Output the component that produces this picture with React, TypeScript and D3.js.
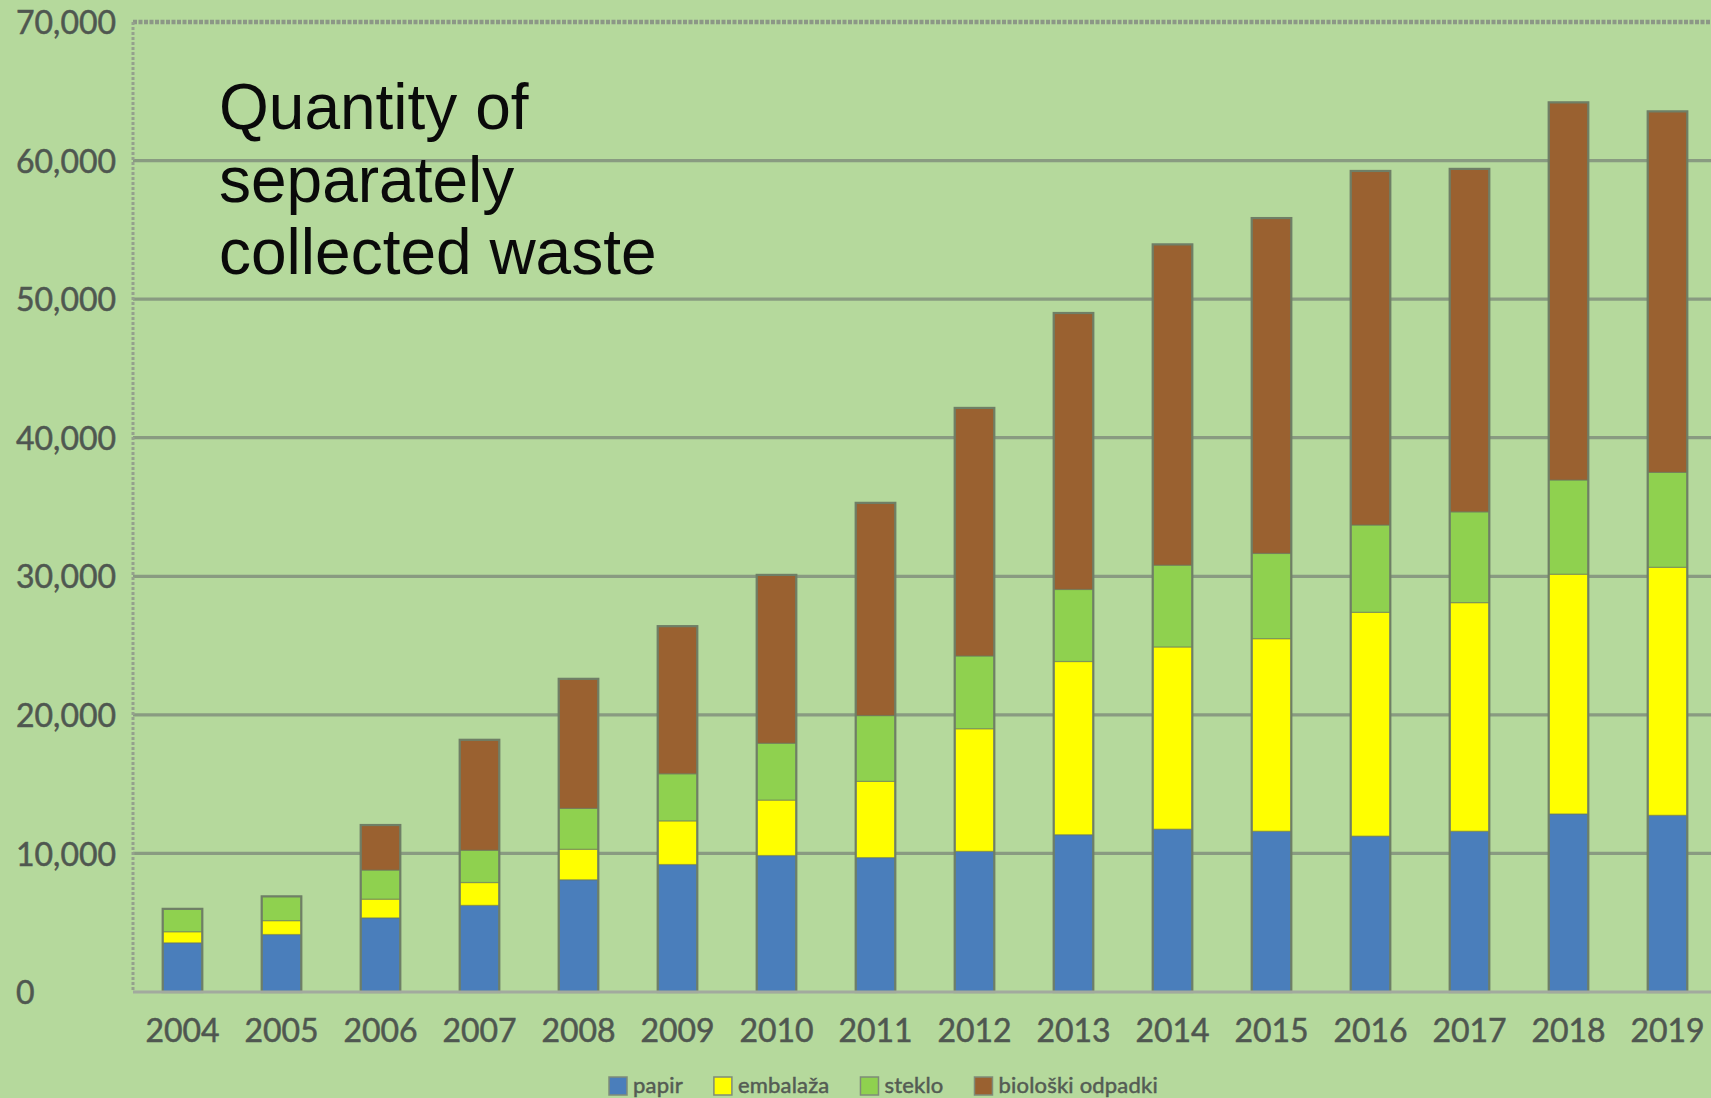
import { useEffect, useRef } from "react";
import * as d3 from "d3";

// years on the x axis
const years = [
  "2004", "2005", "2006", "2007", "2008", "2009", "2010", "2011",
  "2012", "2013", "2014", "2015", "2016", "2017", "2018", "2019",
];

// tonnes per fraction
const papir = [3550, 4150, 5350, 6250, 8100, 9200, 9850, 9700, 10150, 11350, 11750, 11600, 11250, 11600, 12850, 12750];
const embalaza = [800, 1000, 1350, 1650, 2200, 3150, 4000, 5500, 8850, 12500, 13150, 13900, 16150, 16500, 17300, 17900];
const steklo = [1650, 1750, 2100, 2330, 2950, 3400, 4100, 4750, 5250, 5200, 5900, 6150, 6300, 6550, 6800, 6850];
const bioloski = [0, 0, 3250, 7970, 9350, 10650, 12150, 15350, 17900, 19950, 23150, 24200, 25550, 24750, 27250, 26050];

const seriesNames = ["papir", "embalaža", "steklo", "biološki odpadki"];
const seriesColors = ["#4a7ebb", "#ffff00", "#8fd14f", "#9a6130"];

const yTicks = [0, 10000, 20000, 30000, 40000, 50000, 60000, 70000];
const titleLines = ["Quantity of", "separately", "collected waste"];

const W = 1711;
const H = 1098;
const BG = "#b5d99c";

export default function App() {
  const svgRef = useRef<SVGSVGElement>(null);

  useEffect(() => {
    const svg = d3.select(svgRef.current);
    svg.selectAll("*").remove();

    const left = 133;
    const right = 1717; // plot runs past the cropped right edge
    const top = 22;
    const bottom = 992;

    const x = d3
      .scaleBand<string>()
      .domain(years)
      .range([left, right])
      .paddingInner(0.6)
      .paddingOuter(0.3);

    const y = d3.scaleLinear().domain([0, 70000]).range([bottom, top]);

    const rows = years.map((yr, i) => ({
      year: yr,
      papir: papir[i],
      embalaza: embalaza[i],
      steklo: steklo[i],
      bioloski: bioloski[i],
    }));
    const keys = ["papir", "embalaza", "steklo", "bioloski"];
    const stacked = d3.stack<any>().keys(keys)(rows);

    svg.append("rect").attr("width", W).attr("height", H).attr("fill", BG);

    // gridlines
    svg
      .append("g")
      .selectAll("line")
      .data(yTicks.filter((t) => t > 0 && t < 70000))
      .join("line")
      .attr("x1", left)
      .attr("x2", W)
      .attr("y1", (d) => y(d))
      .attr("y2", (d) => y(d))
      .attr("stroke", "#899b81")
      .attr("stroke-width", 3.2);

    // top border (dotted)
    svg
      .append("line")
      .attr("x1", left)
      .attr("x2", W)
      .attr("y1", y(70000))
      .attr("y2", y(70000))
      .attr("stroke", "#8c9886")
      .attr("stroke-width", 4.5)
      .attr("stroke-dasharray", "4 1.5");

    // left axis (dotted)
    svg
      .append("line")
      .attr("x1", left)
      .attr("x2", left)
      .attr("y1", y(70000))
      .attr("y2", bottom)
      .attr("stroke", "#95a18d")
      .attr("stroke-width", 3)
      .attr("stroke-dasharray", "3 2");

    // title
    const title = svg
      .append("text")
      .attr("font-family", "'Liberation Sans', Arial, sans-serif")
      .attr("font-size", 64)
      .attr("fill", "#0a0a0a");
    titleLines.forEach((line, i) => {
      title
        .append("tspan")
        .attr("x", 219)
        .attr("y", 129 + i * 72.5)
        .text(line);
    });

    // bars
    svg
      .append("g")
      .selectAll("g")
      .data(stacked)
      .join("g")
      .attr("fill", (_, i) => seriesColors[i])
      .selectAll("rect")
      .data((d) => d.filter((s) => s[1] - s[0] > 0))
      .join("rect")
      .attr("x", (d: any) => x(d.data.year) as number)
      .attr("width", x.bandwidth())
      .attr("y", (d) => y(d[1]))
      .attr("height", (d) => y(d[0]) - y(d[1]))
      .attr("stroke", "rgba(105,118,95,0.55)")
      .attr("stroke-width", 1.2);

    // bar outlines
    svg
      .append("g")
      .selectAll("rect")
      .data(rows)
      .join("rect")
      .attr("x", (d) => x(d.year) as number)
      .attr("width", x.bandwidth())
      .attr("y", (d) => y(d.papir + d.embalaza + d.steklo + d.bioloski))
      .attr("height", (d) => bottom - y(d.papir + d.embalaza + d.steklo + d.bioloski))
      .attr("fill", "none")
      .attr("stroke", "#6f7f66")
      .attr("stroke-width", 2.2);

    // baseline
    svg
      .append("line")
      .attr("x1", left)
      .attr("x2", W)
      .attr("y1", bottom)
      .attr("y2", bottom)
      .attr("stroke", "#a2aa9e")
      .attr("stroke-width", 3);

    const labelFont = "Lato, 'Open Sans', sans-serif";
    const labelColor = "#4f5750";

    // y labels (left aligned)
    svg
      .append("g")
      .selectAll("text")
      .data(yTicks)
      .join("text")
      .attr("x", 16)
      .attr("y", (d) => y(d) + 4)
      .attr("dominant-baseline", "middle")
      .attr("font-family", labelFont)
      .attr("font-size", 32)
      .attr("fill", labelColor)
      .attr("stroke", labelColor)
      .attr("stroke-width", 0.5)
      .text((d) => d3.format(",")(d));

    // x labels
    svg
      .append("g")
      .selectAll("text")
      .data(years)
      .join("text")
      .attr("x", (d) => (x(d) as number) + x.bandwidth() / 2)
      .attr("y", 1042)
      .attr("text-anchor", "middle")
      .attr("font-family", labelFont)
      .attr("font-size", 32)
      .attr("fill", labelColor)
      .attr("stroke", labelColor)
      .attr("stroke-width", 0.5)
      .text((d) => d);

    // legend
    const legend = svg.append("g");
    let lx = 609;
    seriesNames.forEach((name, i) => {
      legend
        .append("rect")
        .attr("x", lx)
        .attr("y", 1077)
        .attr("width", 18)
        .attr("height", 18)
        .attr("fill", seriesColors[i])
        .attr("stroke", "#7f8c78")
        .attr("stroke-width", 1.5);
      const t = legend
        .append("text")
        .attr("x", lx + 24)
        .attr("y", 1093)
        .attr("font-family", labelFont)
        .attr("font-size", 22)
        .attr("letter-spacing", 0.2)
        .attr("fill", "#545c54")
        .attr("stroke", "#545c54")
        .attr("stroke-width", 0.5)
        .text(name);
      const w = (t.node() as SVGTextElement).getComputedTextLength();
      lx += 24 + w + 31;
    });
  }, []);

  return (
    <div style={{ position: "absolute", left: 0, top: 0 }}>
      <svg ref={svgRef} width={W} height={H} style={{ display: "block" }} />
    </div>
  );
}
